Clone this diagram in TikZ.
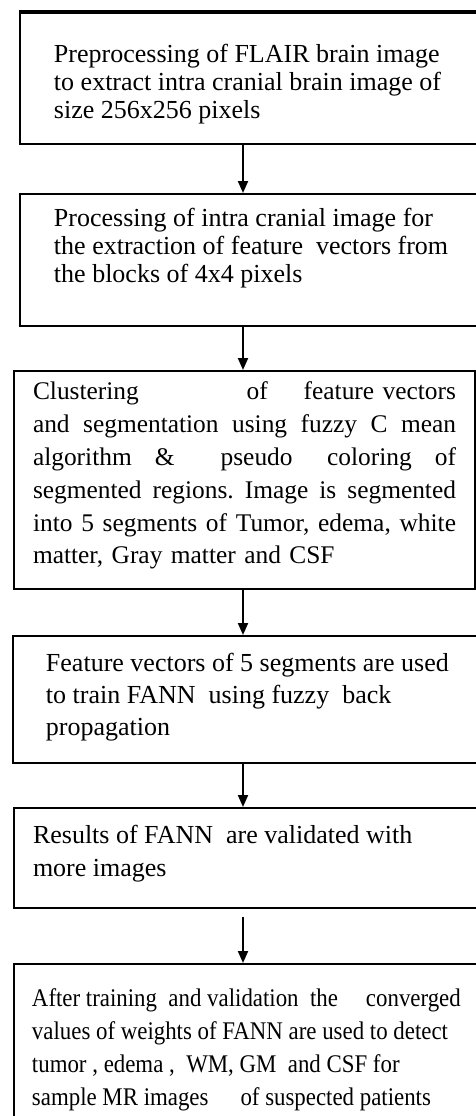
\documentclass[tikz,border=0pt]{standalone}
\usepackage{fontspec}
\setmainfont{Liberation Serif}
\newfontfamily\narrowserif[FakeStretch=0.9]{Liberation Serif}
\usepackage{tikz}
\usetikzlibrary{
        arrows.meta,
        positioning
    }
\tikzset{>={Triangle[length=6pt,width=5pt]},node distance=1cm}
\tikzset{
    stepbox/.style={draw,line width=1pt,rectangle,anchor=north west,inner sep=0pt},
    steptext/.style={inner sep=0pt,align=left,font=\fontsize{13}{14}\selectfont}
}

\begin{document}
\begin{tikzpicture}[x=0.5pt,y=-0.5pt,line width=1pt]
    \useasboundingbox (0,0) rectangle (476,1116);
    \clip (0,0) rectangle (476,1116);
    \fill[white] (0,0) rectangle (476,1116);
    % boxes
    \node[stepbox,minimum width=240.5pt,minimum height=65.5pt] (b1) at (19,12)  {};
    \node[stepbox,minimum width=240.5pt,minimum height=66pt]   (b2) at (19,193) {};
    \node[stepbox,minimum width=230.5pt,minimum height=109pt]  (b3) at (13,370) {};
    \node[stepbox,minimum width=245pt,minimum height=63.5pt]   (b4) at (12,635) {};
    \node[stepbox,minimum width=245pt,minimum height=50pt]     (b5) at (13,807) {};
    \node[stepbox,minimum width=245pt,minimum height=100pt]    (b6) at (13,963) {};
    \draw[line width=2.2pt] (b1.north west) -- (b1.north east);
    % texts
    \node[steptext,below right=15.5pt and 17pt of b1.north west] (t1)
        {Preprocessing of FLAIR brain image\\
         to extract intra cranial brain image of\\
         size 256x256 pixels};
    \node[steptext,below right=7pt and 17pt of b2.north west] (t2)
        {Processing of intra cranial image for\\
         the extraction of feature\ \ vectors from\\
         the blocks of 4x4 pixels};
    \node[steptext,text width=211.5pt,font=\fontsize{12.7}{16.4}\selectfont,
          below right=5.5pt and 9.5pt of b3.north west] (t3)
        {\makebox[\linewidth][l]{Clustering\hfill\hfill\hfill of\hfill feature vectors}\\
         \makebox[\linewidth][l]{and\hfill segmentation\hfill using\hfill fuzzy\hfill C\hfill mean}\\
         \makebox[\linewidth][l]{algorithm\hfill\hfill\&\hfill\hfill\hfill\hfill pseudo\hfill\hfill\hfill coloring\hfill\hfill of}\\
         \makebox[\linewidth][l]{segmented\hfill regions.\hfill Image\hfill is\hfill segmented}\\
         \makebox[\linewidth][l]{into\hfill 5\hfill segments\hfill of\hfill Tumor,\hfill edema,\hfill white}\\
         matter, Gray matter and CSF};
    \node[steptext,font=\fontsize{13}{16}\selectfont,
          below right=8.5pt and 16.5pt of b4.north west] (t4)
        {Feature vectors of 5 segments are used\\
         to train FANN\ \ using fuzzy\ \ back\\
         propagation};
    \node[steptext,font=\fontsize{13}{16.5}\selectfont,
          below right=8.5pt and 9.5pt of b5.north west] (t5)
        {Results of FANN\ \ are validated with\\
         more images};
    \node[steptext,font=\narrowserif\fontsize{12.7}{16.5}\selectfont,
          below right=12.5pt and 9pt of b6.north west] (t6)
        {After training\ \ and validation\ \ the\hspace{14pt}converged\\
         values of weights of FANN are used to detect\\
         tumor , edema ,\ \ WM, GM\ \ and CSF for\\
         sample MR images\hspace{16pt}of suspected patients};
    % arrows
    \coordinate (ax) at (243,0);
    \draw[->] (b1.south -| ax) -- (b2.north -| ax);
    \draw[->] (b2.south -| ax) -- (b3.north -| ax);
    \draw[->] (b3.south -| ax) -- (b4.north -| ax);
    \draw[->] (b4.south -| ax) -- (b5.north -| ax);
    \draw[->,shorten <=4pt] (b5.south -| ax) -- (b6.north -| ax);
\end{tikzpicture}
\end{document}
